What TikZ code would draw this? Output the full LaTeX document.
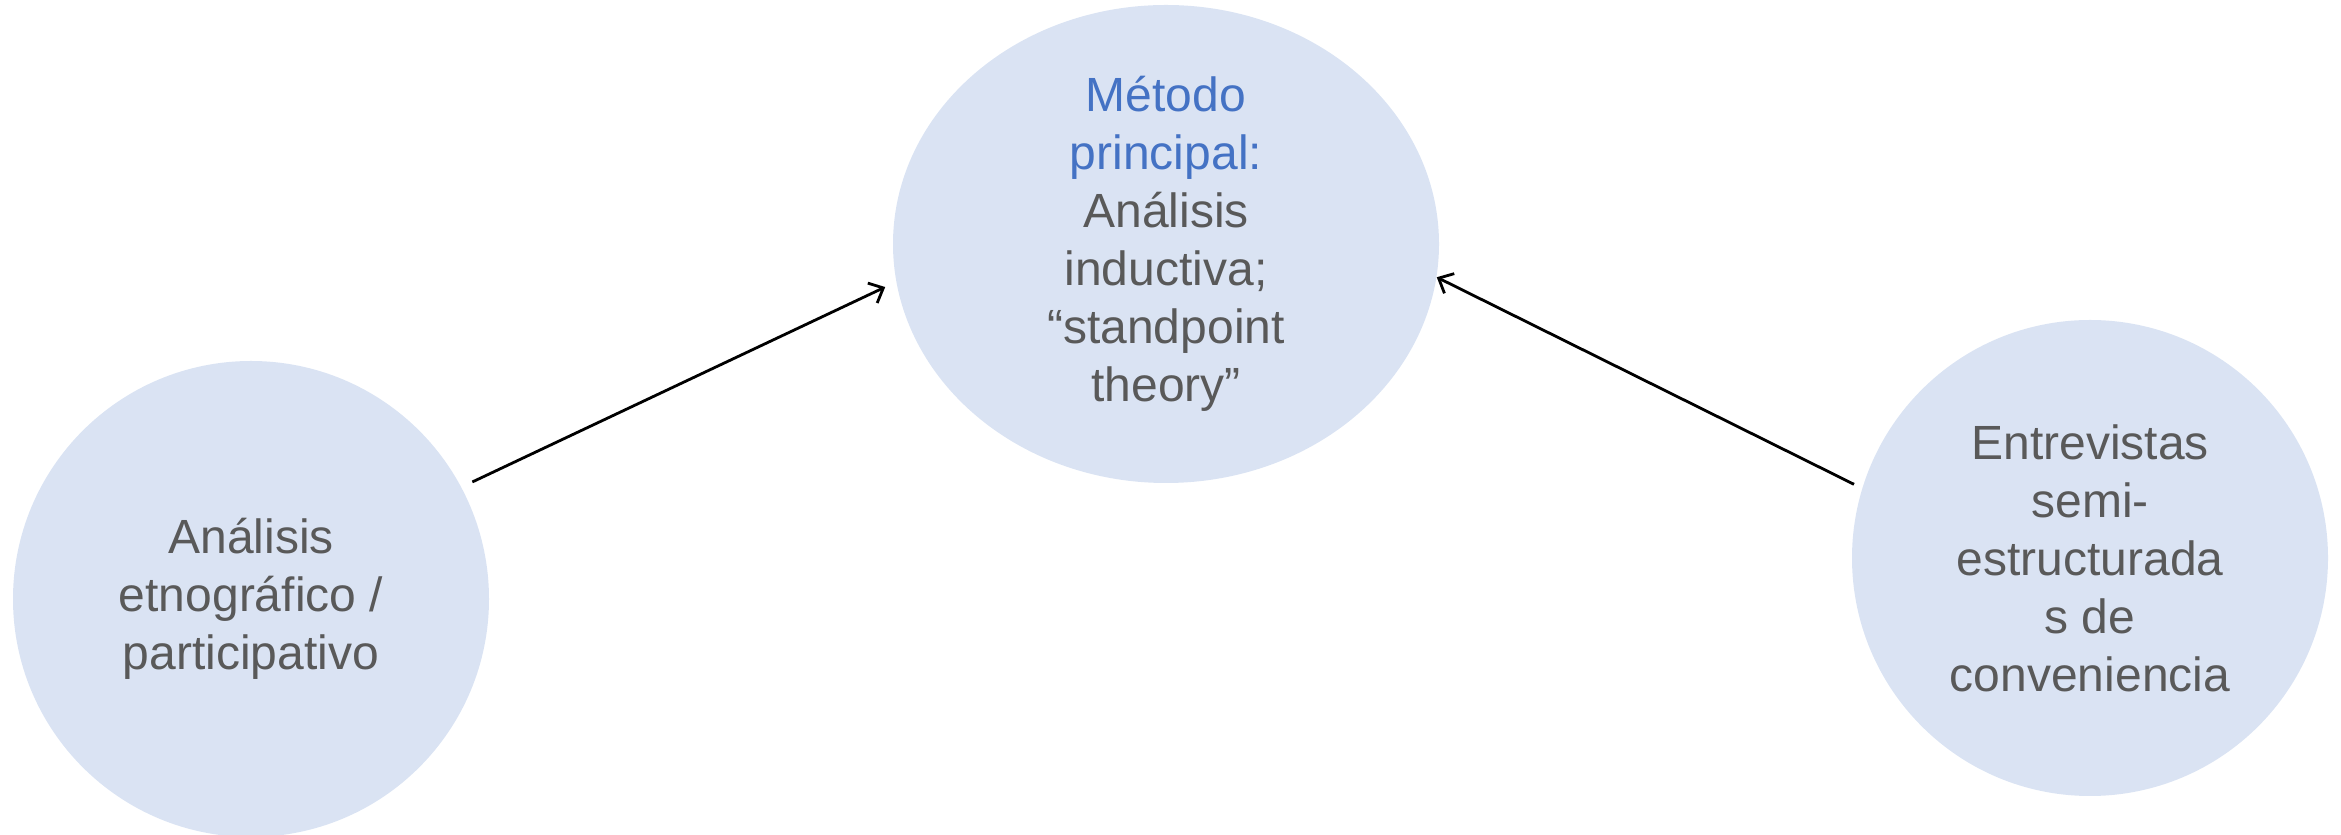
\documentclass[tikz,border=0pt]{standalone}
\usepackage{fontspec}
\setmainfont{Liberation Sans}
\usepackage{tikz}
\usetikzlibrary{shapes.geometric}
\usetikzlibrary{arrows.meta}

\definecolor{fillblue}{HTML}{DAE3F3}
\definecolor{textgray}{HTML}{595959}
\definecolor{titleblue}{HTML}{4472C4}

\tikzset{
  bubble/.style={circle, fill=fillblue, draw=none, inner sep=0pt, minimum size=238pt,
    text=textgray, align=center, font=\fontsize{24}{29}\selectfont},
  link/.style={line width=1.4pt, -{Straight Barb[length=6pt,width=11pt]}}
}

\begin{document}
\begin{tikzpicture}[x=0.5pt, y=0.5pt]
    \useasboundingbox (0,0) rectangle (2341,835);

    \node[bubble] (etno) at (251,236) {Análisis\\etnográfico /\\participativo};
    \node[bubble, ellipse, minimum width=273pt, minimum height=239pt] (metodo) at (1166,591)
      {\textcolor{titleblue}{Método}\\\textcolor{titleblue}{principal:}\\Análisis\\inductiva;\\“standpoint\\theory”};
    \node[bubble] (entrev) at (2090,277) {Entrevistas\\semi-\\estructurada\\s de\\conveniencia};

    \draw[link, shorten <=6pt, shorten >=6pt] (etno.28) -- (metodo.188);
    \draw[link, shorten <=4.5pt] (entrev.163) -- (metodo.-7);
\end{tikzpicture}
\end{document}
